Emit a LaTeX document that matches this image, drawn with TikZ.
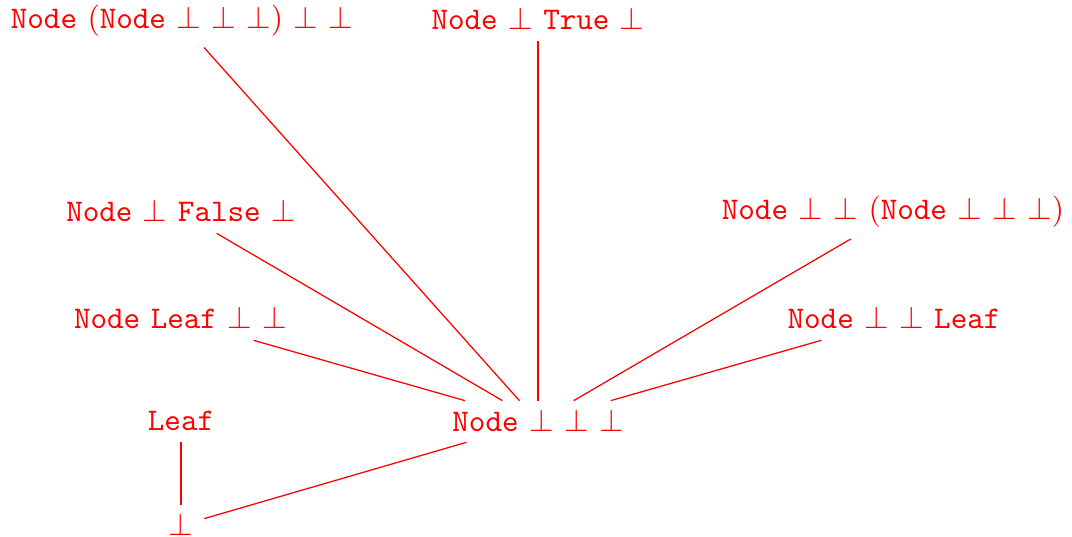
\documentclass[tikz,border=0pt]{standalone}
\begin{document}
\begin{tikzpicture}[x=0.3175pt, y=-0.3175pt,
  term/.style={text=red, anchor=base, font=\normalsize, text height=6.11pt},
  order/.style={draw=red, line width=0.4pt},
  chain/.style={draw=red, line width=0.65pt}]
\useasboundingbox (0,0) rectangle (1072,537);
\newcommand{\tn}[1]{\texttt{#1}}
% approximation ordering of lazy trees
\node[term] (nnb)   at (182,28.5) {\tn{Node} (\tn{Node} $\bot$ $\bot$ $\bot$) $\bot$ $\bot$};
\node[term] (ntrue) at (538,30)   {\tn{Node} $\bot$ \tn{True} $\bot$};
\node[term] (nfal)  at (181,222)  {\tn{Node} $\bot$ \tn{False} $\bot$};
\node[term] (nleaf) at (180.5,329){\tn{Node} \tn{Leaf} $\bot$ $\bot$};
\node[term] (leaf)  at (181,430.5){\tn{Leaf}};
\node[term] (bot)   at (181,535)  {$\bot$};
\node[term] (nbbb)  at (538,431)  {\tn{Node} $\bot$ $\bot$ $\bot$};
\node[term] (nbn)   at (893,220)  {\tn{Node} $\bot$ $\bot$ (\tn{Node} $\bot$ $\bot$ $\bot$)};
\node[term] (nbl)   at (894,329)  {\tn{Node} $\bot$ $\bot$ \tn{Leaf}};

\draw[order] (nbbb) -- (bot);
\draw[chain] (leaf) -- (bot);
\draw[order] (nbbb) -- (nnb);
\draw[chain] (nbbb) -- (ntrue);
\draw[order] (nbbb) -- (nfal);
\draw[order] (nbbb) -- (nleaf);
\draw[order] (nbbb) -- (nbn);
\draw[order] (nbbb) -- (nbl);
\end{tikzpicture}
\end{document}
